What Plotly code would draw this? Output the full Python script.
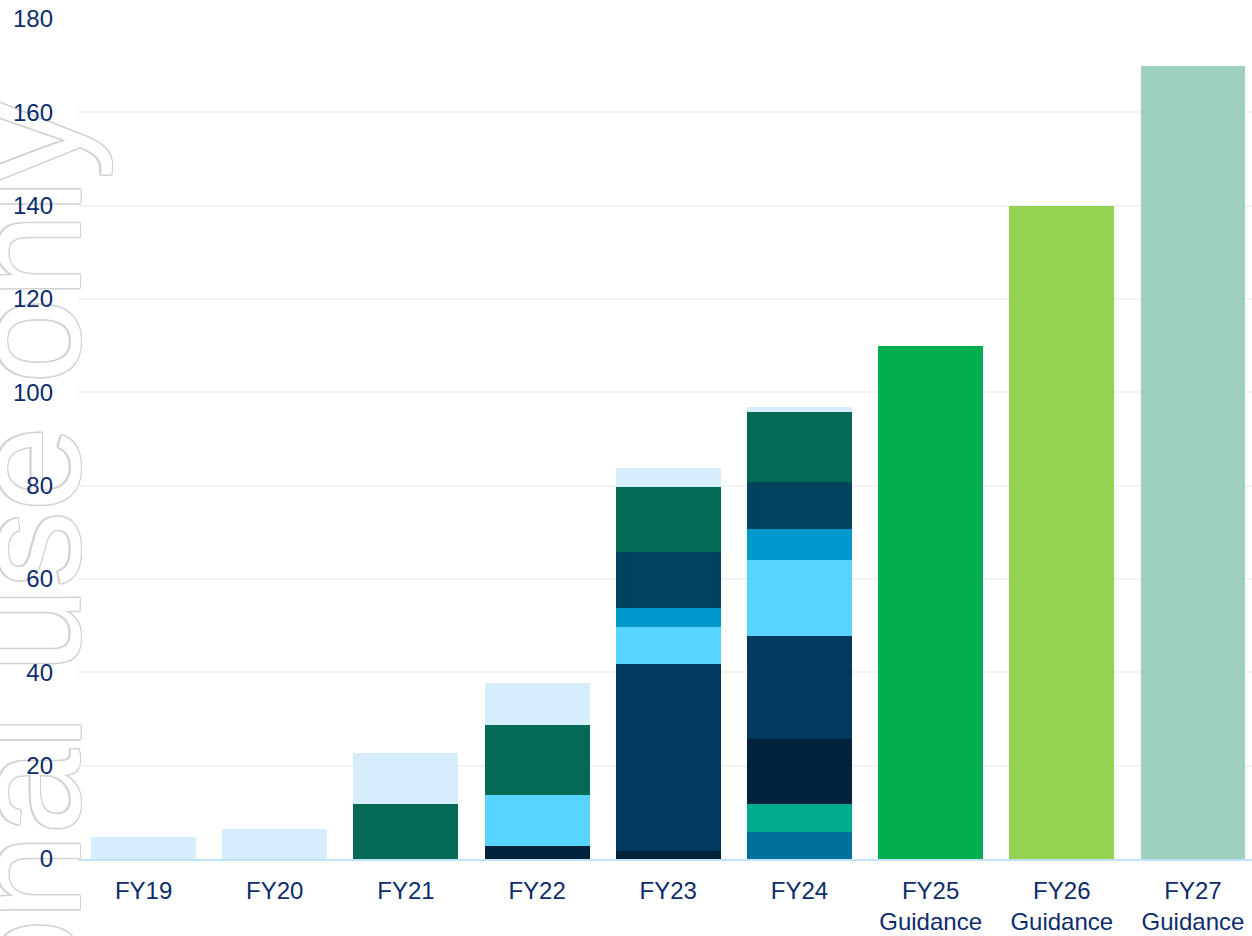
import plotly.graph_objects as go

categories = ["FY19", "FY20", "FY21", "FY22", "FY23", "FY24",
              "FY25<br>Guidance", "FY26<br>Guidance", "FY27<br>Guidance"]

# stacked segments, bottom to top (None = no segment)
seg_steel   = [None, None, None, None, None, 5.7, None, None, None]
seg_teal    = [None, None, None, None, None, 6.0, None, None, None]
seg_darkest = [None, None, None, 2.7, 1.8, 14.1, None, None, None]
seg_navy    = [None, None, None, None, 39.9, 21.9, None, None, None]
seg_cyan    = [None, None, None, 11.1, 8.1, 16.3, None, None, None]
seg_blue    = [None, None, None, None, 3.9, 6.8, None, None, None]
seg_petrol  = [None, None, None, None, 12.0, 9.9, None, None, None]
seg_green   = [None, None, 11.7, 15.0, 14.1, 15.0, None, None, None]
seg_light   = [4.8, 6.5, 11.1, 9.0, 3.9, 1.2, None, None, None]
guidance    = [None, None, None, None, None, None, 110, 140, 170]

seg_colors = {
    "steel": "#00709D",
    "teal": "#00AB8E",
    "darkest": "#00223A",
    "navy": "#00395D",
    "cyan": "#57D4FE",
    "blue": "#0099CC",
    "petrol": "#00435F",
    "green": "#036A55",
    "light": "#D6EDFB",
}
guidance_colors = ["#FFFFFF"] * 6 + ["#00AE4F", "#94D251", "#9DD1BD"]

yticks = [0, 20, 40, 60, 80, 100, 120, 140, 160, 180]

text_color = "#0C2C6C"
font_family = "Liberation Sans, Arial, sans-serif"

fig = go.Figure()

series = [
    ("steel", seg_steel), ("teal", seg_teal), ("darkest", seg_darkest),
    ("navy", seg_navy), ("cyan", seg_cyan), ("blue", seg_blue),
    ("petrol", seg_petrol), ("green", seg_green), ("light", seg_light),
]
for name, vals in series:
    fig.add_trace(go.Bar(
        x=categories, y=vals, name=name,
        marker=dict(color=seg_colors[name], line=dict(width=0)),
        hoverinfo="x+y",
    ))

fig.add_trace(go.Bar(
    x=categories, y=guidance, name="Guidance",
    marker=dict(color=guidance_colors, line=dict(width=0)),
    hoverinfo="x+y",
))

# watermark outline (text drawn below the axes)
oc = "#D2D2D2"
shadow = ", ".join(
    f"{dx}px {dy}px 0 {oc}" for dx, dy in
    [(1.5, 0), (-1.5, 0), (0, 1.5), (0, -1.5),
     (1.1, 1.1), (-1.1, -1.1), (1.1, -1.1), (-1.1, 1.1)]
)
wx, wy = -0.0562, 0.0243
fig.add_shape(
    type="rect", xref="paper", yref="paper",
    x0=wx - 0.005, x1=wx + 0.005, y0=wy - 0.005, y1=wy + 0.005,
    line=dict(width=0), fillcolor="rgba(0,0,0,0)", layer="below",
    label=dict(
        text="For personal use only", textangle=-90,
        textposition="middle center",
        font=dict(family=font_family, size=153, color="white", shadow=shadow),
    ),
)

fig.update_layout(
    width=1252, height=936,
    barmode="stack", bargap=0.2,
    showlegend=False,
    paper_bgcolor="white", plot_bgcolor="white",
    margin=dict(l=78, r=0, t=19, b=77),
    font=dict(family=font_family, size=24, color=text_color),
    xaxis=dict(
        type="category", range=[-0.5, 8.45], automargin=False,
        showgrid=False, zeroline=False,
        showline=True, linecolor="#BFE3F8", linewidth=2,
        ticks="", ticklabelstandoff=9,
        tickfont=dict(family=font_family, size=24, color=text_color),
    ),
    yaxis=dict(
        range=[0, 180], tickvals=yticks, automargin=False,
        showgrid=True, gridcolor="#F2F2F2", gridwidth=1.5,
        zeroline=False, showline=False, ticks="",
        ticklabelstandoff=24,
        tickfont=dict(family=font_family, size=24, color=text_color),
    ),
)

fig.write_html("out.html")
